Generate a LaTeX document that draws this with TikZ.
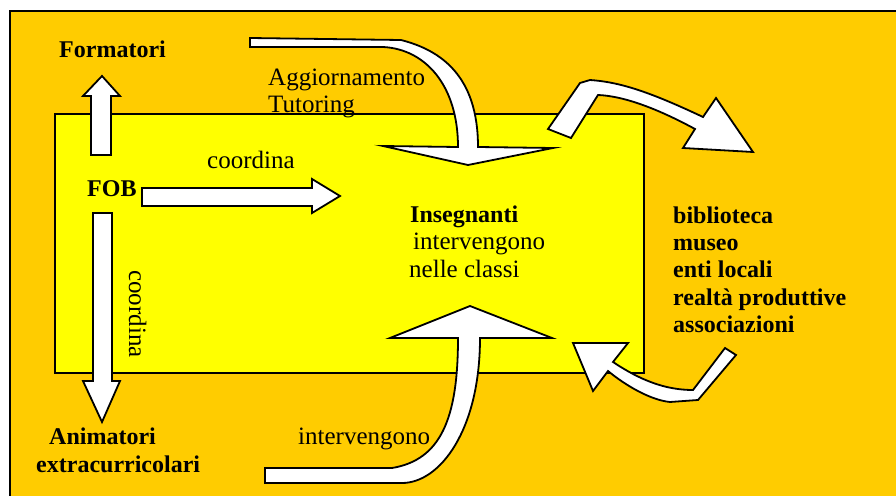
\documentclass[tikz,border=0pt]{standalone}
\usepackage{fontspec}
\setmainfont{Liberation Serif}
\definecolor{bgorange}{HTML}{FFCC00}
\definecolor{boxyellow}{HTML}{FFFF00}
\tikzset{
  bigarrow/.style={draw=black, fill=white, line width=1.8pt, line join=miter},
  lbl/.style={anchor=base west, inner sep=0pt, font=\fontsize{25}{28}\selectfont},
  blbl/.style={anchor=base west, inner sep=0pt, font=\fontsize{24}{28}\selectfont\bfseries},
}
\begin{document}
\begin{tikzpicture}[x=1pt,y=-1pt]
\useasboundingbox (0,0) rectangle (896,495);
\clip (0,0) rectangle (896,495);
\fill[white] (0,0) rectangle (896,495);
% outer frame
\draw[fill=bgorange, line width=2pt] (10,11.5) rectangle (905,505);
% inner box
\draw[fill=boxyellow, line width=2pt] (55,114) rectangle (644,373);

% straight arrows
\draw[bigarrow] (91,155) -- (91,96) -- (83,96) -- (102,76) -- (120,96) -- (111,96) -- (111,155) -- cycle;
\draw[bigarrow] (93,213) -- (93,381) -- (83,381) -- (102,422) -- (120,381) -- (112,381) -- (112,213) -- cycle;
\draw[bigarrow] (142,188) -- (312,188) -- (312,179) -- (340,196) -- (312,213) -- (312,206) -- (142,206) -- cycle;

% top curved arrow
\draw[bigarrow] (250,38) -- (401,40) .. controls (440,50) and (478,75) .. (478,147)
  -- (553,148) -- (468,165) -- (383,146) -- (458,147)
  .. controls (458,85) and (425,49) .. (383,47) -- (250,47) -- cycle;

% bottom curved arrow
\draw[bigarrow] (265,468) -- (392,468) .. controls (440,460) and (458,420) .. (458,338)
  -- (390,338) -- (470,306) -- (552,338) -- (480,338)
  .. controls (480,430) and (440,483) .. (402,483) -- (265,483) -- cycle;

% top right arrow
\draw[bigarrow] (548,129) -- (580,83) -- (590,80) .. controls (620,82) and (650,92) .. (703,117)
  -- (716,98) -- (753,152) -- (683,148) -- (695,129)
  .. controls (660,110) and (625,96) .. (598,95) -- (571,138) -- cycle;

% bottom right arrow
\draw[bigarrow] (573,343) -- (628,343) -- (613,362) .. controls (640,380) and (665,390) .. (693,390)
  -- (725,348) -- (736,355) -- (698,400) -- (670,402)
  .. controls (650,400) and (625,385) .. (608,371) -- (593,391) -- cycle;

% texts
\node[blbl] (form) at (59,57) {Formatori};
\node[lbl] (agg) at (268,85) {Aggiornamento};
\node[lbl] (tut) at (268,112) {Tutoring};
\node[lbl] (coord1) at (207,168) {coordina};
\node[blbl] (fob) at (87,196) {FOB};
\node[lbl, rotate=-90] (coord2) at (129,270) {coordina};
\node[blbl] (ins) at (410,222) {Insegnanti};
\node[lbl] (int1) at (413,249) {intervengono};
\node[lbl] (nel) at (409,277) {nelle classi};
\node[blbl] (bib) at (673,223) {biblioteca};
\node[blbl] (mus) at (673,250) {museo};
\node[blbl] (enti) at (673,277) {enti locali};
\node[blbl] (real) at (673,305) {realtà produttive};
\node[blbl] (ass) at (673,332) {associazioni};
\node[blbl] (anim) at (49,444) {Animatori};
\node[blbl] (extra) at (36,472) {extracurricolari};
\node[lbl] (int2) at (298,444) {intervengono};
\end{tikzpicture}
\end{document}
